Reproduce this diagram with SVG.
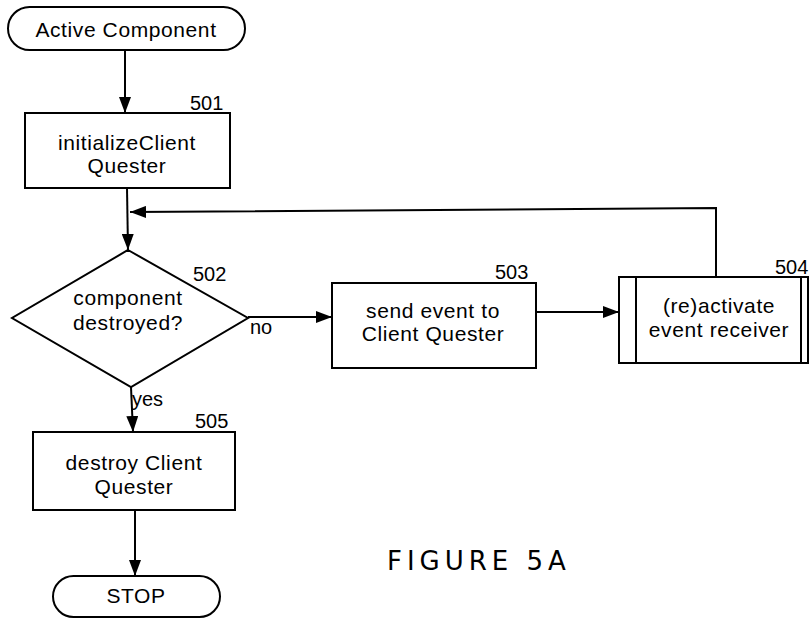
<svg xmlns="http://www.w3.org/2000/svg" width="811" height="626" viewBox="0 0 811 626">
<style>
.shape{fill:#fff;stroke:#000;stroke-width:2}
.t{font-family:"Liberation Sans",Arial,sans-serif;font-size:21px;fill:#000;text-anchor:middle;letter-spacing:0.6px}
.n{font-family:"Liberation Sans",Arial,sans-serif;font-size:20px;fill:#000}
.c{fill:none;stroke:#000;stroke-width:2}
.fig{font-family:"DejaVu Sans",sans-serif;font-size:26px;fill:#000;letter-spacing:5px}
</style>
<defs>
<marker id="arr" viewBox="0 0 16 12" refX="16" refY="6" markerWidth="16" markerHeight="12" markerUnits="userSpaceOnUse" orient="auto">
<path d="M0,0 L16,6 L0,12 Z" fill="#000"/>
</marker>
</defs>
<g id="connectors">
<line class="c" x1="125" y1="50" x2="125" y2="113" marker-end="url(#arr)"/>
<line class="c" x1="127" y1="188" x2="128" y2="250" marker-end="url(#arr)"/>
<polyline class="c" points="716,277 716,208 130,212" marker-end="url(#arr)"/>
<line class="c" x1="248" y1="317" x2="332" y2="317" marker-end="url(#arr)"/>
<line class="c" x1="536" y1="312" x2="619" y2="312" marker-end="url(#arr)"/>
<line class="c" x1="131" y1="387" x2="133" y2="432" marker-end="url(#arr)"/>
<line class="c" x1="135" y1="510" x2="135" y2="576" marker-end="url(#arr)"/>
</g>
<g id="start">
<rect class="shape" x="8" y="7" width="237" height="43" rx="21.5"/>
<text class="t" x="126" y="37">Active Component</text>
</g>
<g id="n501">
<rect class="shape" x="25" y="113" width="205" height="75"/>
<text class="n" x="190" y="110">501</text>
<text class="t" x="127" y="150">initializeClient</text>
<text class="t" x="127" y="173">Quester</text>
</g>
<g id="n502">
<polygon class="shape" points="128,250 248,318 131,387 12,318"/>
<text class="n" x="193" y="281">502</text>
<text class="t" x="128" y="305">component</text>
<text class="t" x="128" y="330">destroyed?</text>
<text class="n" x="250" y="334">no</text>
<text class="n" x="132" y="406">yes</text>
</g>
<g id="n503">
<rect class="shape" x="332" y="283" width="204" height="85"/>
<text class="n" x="495" y="279">503</text>
<text class="t" x="433" y="318">send event to</text>
<text class="t" x="433" y="341">Client Quester</text>
</g>
<g id="n504">
<rect class="shape" x="619" y="277" width="189" height="86"/>
<line class="c" x1="636" y1="277" x2="636" y2="363"/>
<line class="c" x1="801" y1="277" x2="801" y2="363"/>
<text class="n" x="775" y="274">504</text>
<text class="t" x="719" y="313">(re)activate</text>
<text class="t" x="719" y="337">event receiver</text>
</g>
<g id="n505">
<rect class="shape" x="33" y="432" width="202" height="78"/>
<text class="n" x="195" y="428">505</text>
<text class="t" x="134" y="470">destroy Client</text>
<text class="t" x="134" y="494">Quester</text>
</g>
<g id="stop">
<rect class="shape" x="53" y="576" width="167" height="41" rx="20.5"/>
<text class="t" x="136" y="603">STOP</text>
</g>
<text class="fig" x="387" y="570">FIGURE 5A</text>
</svg>
